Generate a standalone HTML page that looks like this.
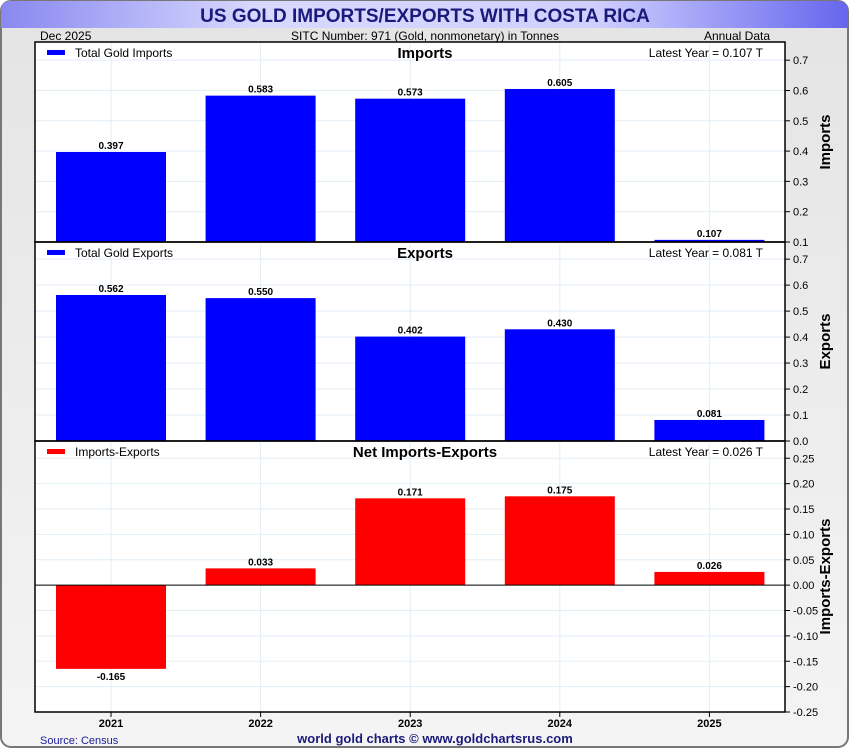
<!DOCTYPE html>
<html><head><meta charset="utf-8"><style>
body{margin:0;width:850px;height:750px;overflow:hidden;background:#fff;font-family:"Liberation Sans",sans-serif}
</style></head><body>
<svg id="c" width="850" height="750" xmlns="http://www.w3.org/2000/svg">
<defs>
<linearGradient id="bg" x1="0" y1="0" x2="0" y2="1"><stop offset="0" stop-color="#e4e4e4"/><stop offset="1" stop-color="#f4f4f4"/></linearGradient>
<linearGradient id="tb" x1="0" y1="0" x2="1" y2="0"><stop offset="0" stop-color="#8888f0"/><stop offset="0.3" stop-color="#d8d8ff"/><stop offset="0.7" stop-color="#d0d0ff"/><stop offset="1" stop-color="#6666ee"/></linearGradient>
</defs>
<rect x="1" y="1" width="847" height="746" rx="10" fill="url(#bg)" stroke="#777" stroke-width="2"/>
<path d="M1,28 L1,11 Q1,1 11,1 L838,1 Q848,1 848,11 L848,28 Z" fill="url(#tb)"/>
<text x="425" y="22" text-anchor="middle" font-size="19" font-weight="bold" fill="#1a1a7a">US GOLD IMPORTS/EXPORTS WITH COSTA RICA</text>
<text x="40" y="40" font-size="12">Dec  2025</text>
<text x="425" y="40" font-size="12" text-anchor="middle">SITC Number: 971 (Gold, nonmonetary) in Tonnes</text>
<text x="770" y="40" font-size="12" text-anchor="end">Annual Data</text>
<rect x="35" y="42" width="750" height="670" fill="#fff"/>
<g id="g"></g>
<text x="40" y="744" font-size="11" fill="#1a1a9a">Source: Census</text>
<text x="435" y="743" font-size="13" font-weight="bold" text-anchor="middle" fill="#1a1a7a">world gold charts © www.goldchartsrus.com</text>
</svg>
<script>
const categories=["2021","2022","2023","2024","2025"];
const importsVals=[0.397,0.583,0.573,0.605,0.107];
const exportsVals=[0.562,0.550,0.402,0.430,0.081];
const netVals=[-0.165,0.033,0.171,0.175,0.026];
const importTicks=[0.1,0.2,0.3,0.4,0.5,0.6,0.7];
const exportTicks=[0.0,0.1,0.2,0.3,0.4,0.5,0.6,0.7];
const netTicks=[-0.25,-0.2,-0.15,-0.1,-0.05,0,0.05,0.1,0.15,0.2,0.25];
const NS="http://www.w3.org/2000/svg",G=document.getElementById('g');
function mk(t,a,txt){const e=document.createElementNS(NS,t);for(const k in a)e.setAttribute(k,a[k]);if(txt!=null)e.textContent=txt;G.appendChild(e);return e;}
const X0=35,X1=785,step=149.6;
function xc(i){return X0+76+i*step;}
const panels=[
 {name:"imports",top:42,bot:242,vmin:0.1,vmax:0.76,vals:importsVals,ticks:importTicks,dec:1,color:"#0000ff",title:"Imports",legend:"Total Gold Imports",latest:"0.107",axis:"Imports"},
 {name:"exports",top:242,bot:441,vmin:0,vmax:0.766,vals:exportsVals,ticks:exportTicks,dec:1,color:"#0000ff",title:"Exports",legend:"Total Gold Exports",latest:"0.081",axis:"Exports"},
 {name:"net",top:441,bot:712,vmin:-0.25,vmax:0.284,vals:netVals,ticks:netTicks,dec:2,color:"#ff0000",title:"Net Imports-Exports",legend:"Imports-Exports",latest:"0.026",axis:"Imports-Exports"}
];
panels.forEach(p=>{
 const y=v=>p.bot-(v-p.vmin)/(p.vmax-p.vmin)*(p.bot-p.top);
 p.ticks.forEach(t=>{
  const ty=y(t);
  let e=mk('line',{x1:X0,x2:X1,y1:ty,y2:ty,stroke:"#e2eef6"});
  
  e=mk('line',{x1:X1,x2:X1+5,y1:ty,y2:ty,stroke:"#000"});
  
  e=mk('text',{x:X1+8,y:ty+4,"font-size":11},t.toFixed(p.dec));
  
 });
 categories.forEach((c,i)=>{
  const e=mk('line',{x1:xc(i),x2:xc(i),y1:p.top,y2:p.bot,stroke:"#e2eef6"});
  
 });
 const base=y(Math.max(0,p.vmin));
 p.vals.forEach((v,i)=>{
  const vy=y(v);
  const b=mk('rect',{x:xc(i)-55,y:Math.min(vy,base),width:110,height:Math.abs(base-vy),fill:p.color});
  
  const ly=v>=0?vy-3:vy+11;
  const l=mk('text',{x:xc(i),y:ly,"font-size":10,"font-weight":"bold","text-anchor":"middle"},v.toFixed(3));
  
 });
 if(p.vmin<0){const z=mk('line',{x1:X0,x2:X1,y1:base,y2:base,stroke:"#000"});}
 let e=mk('rect',{x:X0,y:p.top,width:X1-X0,height:p.bot-p.top,fill:"none",stroke:"#000","stroke-width":1.5});
 
 e=mk('rect',{x:47,y:p.top+8,width:18,height:5,fill:p.color});
 
 e=mk('text',{x:75,y:p.top+15,"font-size":12},p.legend);
 
 e=mk('text',{x:425,y:p.top+16,"font-size":15,"font-weight":"bold","text-anchor":"middle"},p.title);
 
 e=mk('text',{x:763,y:p.top+15,"font-size":12,"text-anchor":"end"},"Latest Year = "+p.latest+" T");
 
 const my=(p.top+p.bot)/2;
 e=mk('text',{x:830,y:my,"font-size":15,"font-weight":"bold","text-anchor":"middle",transform:`rotate(-90 830 ${my})`},p.axis);
 
});
categories.forEach((c,i)=>{
 let e=mk('line',{x1:xc(i),x2:xc(i),y1:712,y2:717,stroke:"#000"});
 
 e=mk('text',{x:xc(i),y:727,"font-size":11,"font-weight":"bold","text-anchor":"middle"},c);
 
});
</script>
</body></html>
